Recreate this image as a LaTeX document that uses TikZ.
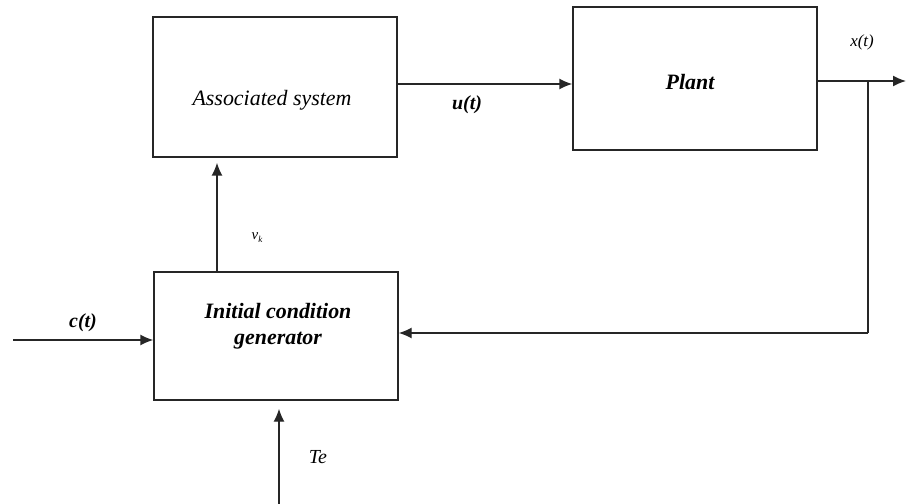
\documentclass[tikz,border=0pt]{standalone}
\usepackage{fontspec}
\setmainfont{Liberation Serif}
\usetikzlibrary{arrows.meta,calc}
\begin{document}
\begin{tikzpicture}[x=1bp,y=-1bp,
  blk/.style={draw=black!85,line width=1.4bp,minimum width=244bp,inner sep=0pt},
  btxt/.style={font=\fontsize{22}{26}\selectfont\bfseries\itshape,align=center,inner sep=0pt},
  lbl/.style={font=\fontsize{20}{24}\selectfont\itshape,inner sep=0pt},
  wire/.style={line width=1.4bp,draw=black!85},
  arr/.style={wire,-{Latex[length=13bp,width=11bp]}}]
\useasboundingbox (0,0) rectangle (907,504);
% boxes
\node[blk,minimum height=140bp] (as) at (275,87) {};
\node[font=\fontsize{22}{26}\selectfont\itshape,inner sep=0pt] (ast) at (272,100) {Associated system};
\node[blk,minimum height=143bp] (pl) at (695,78.5) {};
\node[btxt] (plt) at (690,82) {Plant};
\node[blk,minimum height=128bp] (icg) at (276,336) {};
\node[btxt] (icgt) at (278,326) {Initial condition\\generator};
% helper coordinates
\coordinate (uy) at (0,84);
\coordinate (xy) at (0,81);
\coordinate (fy) at (0,333);
\coordinate (cy) at (0,340);
\coordinate (vx) at (217,0);
\coordinate (tx) at (279,0);
\coordinate (xout) at (906,81);
\coordinate (br) at (868,81);
\coordinate (brd) at (868,333);
\coordinate (cin) at (13,340);
\coordinate (tin) at (279,504);
% connectors
\draw[arr] (as.east|-uy) -- (pl.west|-uy);
\draw[arr] (pl.east|-xy) -- (xout);
\draw[wire] (br) -- (brd);
\draw[arr] (brd) -- (icg.east|-fy);
\draw[arr] (cin) -- (icg.west|-cy);
\draw[arr,shorten >=5bp] (icg.north-|vx) -- (as.south-|vx);
\draw[arr,shorten >=8bp] (tin) -- (icg.south-|tx);
% labels
\node[lbl,font=\fontsize{20}{24}\selectfont\bfseries\itshape] (ul) at (467,105) {u(t)};
\node[lbl,font=\fontsize{17}{20}\selectfont\itshape] (xl) at (862,42) {x(t)};
\node[lbl,font=\fontsize{15}{18}\selectfont\itshape] (vl) at (257,238) {v\raisebox{-0.45ex}{\fontsize{9}{10}\selectfont k}};
\node[lbl,font=\fontsize{20}{24}\selectfont\bfseries\itshape] (cl) at (83,323) {c(t)};
\node[lbl] (tl) at (318,457) {Te};
\end{tikzpicture}
\end{document}
